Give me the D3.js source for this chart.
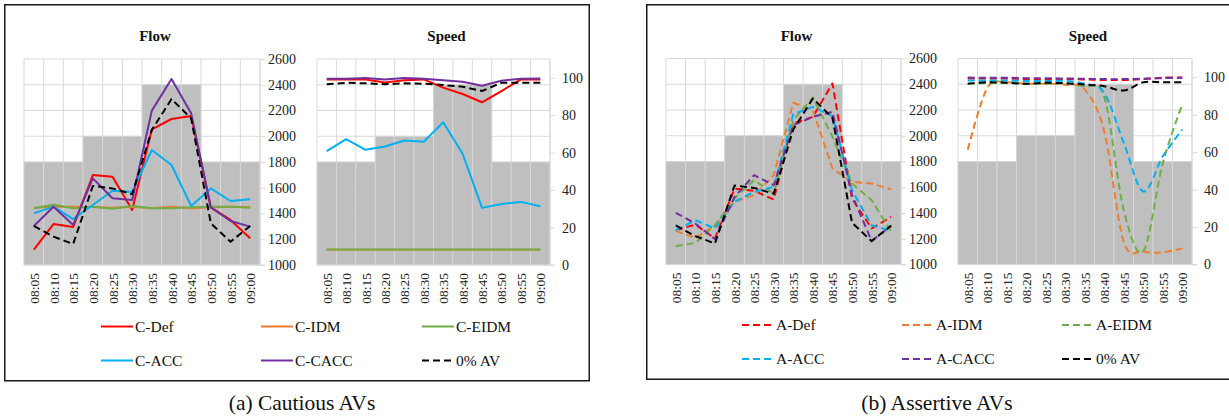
<!DOCTYPE html>
<html>
<head>
<meta charset="utf-8">
<script src="https://cdn.jsdelivr.net/npm/d3@7"></script>
<style>
  html, body { margin: 0; padding: 0; background: #fff; }
  svg { display: block; font-family: "Liberation Serif", "Times New Roman", serif; }
</style>
</head>
<body>
<svg id="chart" width="1229" height="418"></svg>
<script>
// ---------------- DATA ----------------
const categories = ["08:05","08:10","08:15","08:20","08:25","08:30","08:35","08:40","08:45","08:50","08:55","09:00"];
const demandFlow = [1800,1800,1800,2000,2000,2000,2400,2400,2400,1800,1800,1800];
const flowTicks = [1000,1200,1400,1600,1800,2000,2200,2400,2600];
const speedTicks = [0,20,40,60,80,100];

// Cautious AVs - flow
const cDefFlow   = [1120,1318,1295,1699,1686,1427,2054,2134,2157,1448,1350,1207];
const cIdmFlow   = [1445,1452,1452,1450,1445,1452,1440,1452,1440,1448,1452,1450];
const cEidmFlow  = [1440,1468,1440,1453,1437,1458,1440,1440,1448,1453,1453,1445];
const cAccFlow   = [1401,1453,1357,1466,1577,1567,1893,1777,1458,1595,1497,1510];
const cCaccFlow  = [1303,1453,1311,1673,1518,1505,2199,2445,2178,1448,1342,1298];
const noAvFlow   = [1303,1220,1163,1614,1595,1549,2049,2289,2139,1324,1181,1303];

// Cautious AVs - speed
const cDefSpeed  = [99.1,99.1,99.1,97.5,98.6,99.1,94.7,91.3,86.9,92.9,99.1,99.1];
const cIdmSpeed  = [8.2,8.2,8.1,8.2,8.2,8.2,8.2,8.2,8.1,8.2,8.2,8.2];
const cEidmSpeed = [8.3,8.3,8.3,8.3,8.3,8.3,8.3,8.3,8.3,8.3,8.3,8.3];
const cAccSpeed  = [60.8,67.2,61.5,63.3,66.5,65.8,76.2,59.4,30.5,32.6,33.7,31.4];
const cCaccSpeed = [99.5,99.5,99.8,99.1,99.8,99.5,98.6,97.9,95.7,98.4,99.5,99.6];
const noAvSpeed  = [96.5,97.3,97.0,96.5,97.0,96.8,96.1,95.2,92.9,97.3,97.3,97.3];

// Assertive AVs - flow
const aDefFlow   = [1267,1310,1202,1590,1572,1505,2095,2147,2406,1513,1280,1370];
const aIdmFlow   = [1262,1205,1305,1487,1538,1694,2256,2200,1746,1642,1629,1583];
const aEidmFlow  = [1142,1168,1305,1513,1655,1551,2121,2297,1992,1629,1500,1254];
const aAccFlow   = [1267,1344,1280,1487,1564,1603,2168,2224,2152,1577,1305,1261];
const aCaccFlow  = [1401,1318,1197,1525,1694,1616,2082,2147,2186,1538,1184,1298];

// Assertive AVs - speed
const aDefSpeed  = [99.3,99.3,99.3,99.0,99.0,99.0,98.8,98.5,98.5,99.0,99.8,99.8];
const aIdmSpeed  = [61.3,94.3,97.3,96.5,96.5,96.0,93.4,71.0,12.0,7.1,6.5,8.6];
const aEidmSpeed = [96.5,97.0,97.0,96.5,96.5,96.5,95.0,89.5,29.0,7.1,54.0,85.4];
const aAccSpeed  = [98.2,98.2,98.2,98.0,98.0,98.0,96.5,91.6,65.0,39.0,57.7,72.0];
const aCaccSpeed = [99.8,99.7,99.7,99.5,99.5,99.3,99.2,99.0,99.0,99.2,99.5,99.7];

const cautiousNames  = ["C-Def","C-IDM","C-EIDM","C-ACC","C-CACC","0% AV"];
const assertiveNames = ["A-Def","A-IDM","A-EIDM","A-ACC","A-CACC","0% AV"];
const seriesColors   = ["#ff0000","#ed7d31","#70ad47","#00b0f0","#7030a0","#000000"];
const panelCaptions  = ["(a) Cautious AVs","(b) Assertive AVs"];

// ---------------- DRAWING ----------------
const svg = d3.select("#chart");
const GRID = "#d9d9d9";
const BAR = "#bfbfbf";
const DASH = "7,4";

function drawChart(cfg) {
  const g = svg.append("g");
  const x = d3.scaleBand().domain(categories).range([cfg.x0, cfg.x1]).padding(0);
  const bw = x.bandwidth();
  const yPrim = d3.scaleLinear().domain([1000, 2600]).range([cfg.y1, cfg.y0]);
  const yVal = cfg.kind === "flow" ? yPrim : d3.scaleLinear().domain([0, 110]).range([cfg.y1, cfg.y0]);

  // gridlines
  g.append("g").selectAll("line.h").data(flowTicks).join("line")
    .attr("x1", cfg.x0).attr("x2", cfg.x1)
    .attr("y1", d => yPrim(d)).attr("y2", d => yPrim(d))
    .attr("stroke", GRID).attr("stroke-width", 1);
  g.append("g").selectAll("line.v").data(d3.range(categories.length + 1)).join("line")
    .attr("x1", i => cfg.x0 + i * bw).attr("x2", i => cfg.x0 + i * bw)
    .attr("y1", cfg.y0).attr("y2", cfg.y1)
    .attr("stroke", GRID).attr("stroke-width", 1);

  // demand bars
  g.append("g").selectAll("rect").data(categories).join("rect")
    .attr("x", d => x(d)).attr("width", bw)
    .attr("y", (d, i) => yPrim(demandFlow[i]))
    .attr("height", (d, i) => cfg.y1 - yPrim(demandFlow[i]))
    .attr("fill", BAR).attr("stroke", GRID).attr("stroke-width", 0.8);

  // right axis
  const ax = d3.axisRight(yVal)
    .tickValues(cfg.kind === "flow" ? flowTicks : speedTicks)
    .tickSize(5).tickPadding(cfg.kind === "flow" ? 3 : 7)
    .tickFormat(d3.format("d"));
  const axG = g.append("g").attr("transform", `translate(${cfg.x1},0)`).call(ax);
  axG.select(".domain").attr("stroke", GRID).attr("d", `M0,${cfg.y0}V${cfg.y1}`);
  axG.selectAll(".tick line").attr("stroke", GRID);
  axG.selectAll(".tick text").attr("fill", "#222").style("font-size", "14px")
    .style("font-family", "Liberation Serif");

  // bottom axis line
  g.append("line").attr("x1", cfg.x0).attr("x2", cfg.x1 + 5)
    .attr("y1", cfg.y1).attr("y2", cfg.y1).attr("stroke", GRID);

  // category labels
  g.append("g").selectAll("text").data(categories).join("text")
    .attr("transform", d => `translate(${x(d) + bw / 2 + 0.5},${cfg.y1 + 8}) rotate(-90)`)
    .attr("text-anchor", "end").attr("dominant-baseline", "central")
    .style("font-size", "13.5px").attr("fill", "#222").text(d => d);

  // title
  g.append("text").attr("x", (cfg.x0 + cfg.x1) / 2 + 13).attr("y", 40.5)
    .attr("text-anchor", "middle").style("font-size", "15px").style("font-weight", "bold")
    .attr("fill", "#111").text(cfg.title);

  // series
  const line = d3.line()
    .x((d, i) => x(categories[i]) + bw / 2)
    .y(d => yVal(d))
    .curve(cfg.smooth ? d3.curveCardinal.tension(0) : d3.curveLinear);
  cfg.series.forEach((s, k) => {
    g.append("path").datum(s).attr("d", line)
      .attr("fill", "none").attr("stroke", seriesColors[k]).attr("stroke-width", 2)
      .attr("stroke-linejoin", "round")
      .attr("stroke-dasharray", (cfg.dashed || k === 5) ? DASH : null);
  });
}

function drawLegend(names, dashed, x0s, rowYs) {
  const g = svg.append("g");
  names.forEach((n, k) => {
    const col = k % 3, row = Math.floor(k / 3);
    const lx = x0s[col], ly = rowYs[row];
    g.append("line").attr("x1", lx).attr("x2", lx + 32).attr("y1", ly).attr("y2", ly)
      .attr("stroke", seriesColors[k]).attr("stroke-width", 2)
      .attr("stroke-dasharray", (dashed || k === 5) ? DASH : null);
    g.append("text").attr("x", lx + 34).attr("y", ly + 5)
      .style("font-size", "15.5px").attr("fill", "#111").text(n);
  });
}

// panel borders
svg.append("rect").attr("x", 4.75).attr("y", 4.75).attr("width", 584.5).attr("height", 376)
  .attr("fill", "none").attr("stroke", "#1a1a1a").attr("stroke-width", 1.5);
svg.append("rect").attr("x", 646.75).attr("y", 4.75).attr("width", 584).attr("height", 374.5)
  .attr("fill", "none").attr("stroke", "#1a1a1a").attr("stroke-width", 1.5);

drawChart({kind: "flow", title: "Flow", x0: 24, x1: 260, y0: 59, y1: 265,
  series: [cDefFlow, cIdmFlow, cEidmFlow, cAccFlow, cCaccFlow, noAvFlow], smooth: false, dashed: false});
drawChart({kind: "speed", title: "Speed", x0: 317, x1: 550, y0: 59, y1: 265,
  series: [cDefSpeed, cIdmSpeed, cEidmSpeed, cAccSpeed, cCaccSpeed, noAvSpeed], smooth: false, dashed: false});
drawChart({kind: "flow", title: "Flow", x0: 666, x1: 901, y0: 58.5, y1: 264.5,
  series: [aDefFlow, aIdmFlow, aEidmFlow, aAccFlow, aCaccFlow, noAvFlow], smooth: false, dashed: true});
drawChart({kind: "speed", title: "Speed", x0: 958, x1: 1192, y0: 58.5, y1: 264.5,
  series: [aDefSpeed, aIdmSpeed, aEidmSpeed, aAccSpeed, aCaccSpeed, noAvSpeed], smooth: true, dashed: true});

drawLegend(cautiousNames, false, [101, 261, 422], [326.5, 360.5]);
drawLegend(assertiveNames, true, [742, 902, 1062], [325, 359]);

// captions
svg.append("text").attr("x", 302).attr("y", 410).attr("text-anchor", "middle")
  .style("font-size", "21.5px").attr("fill", "#111").text(panelCaptions[0]);
svg.append("text").attr("x", 937).attr("y", 410).attr("text-anchor", "middle")
  .style("font-size", "21.5px").attr("fill", "#111").text(panelCaptions[1]);
</script>
</body>
</html>
